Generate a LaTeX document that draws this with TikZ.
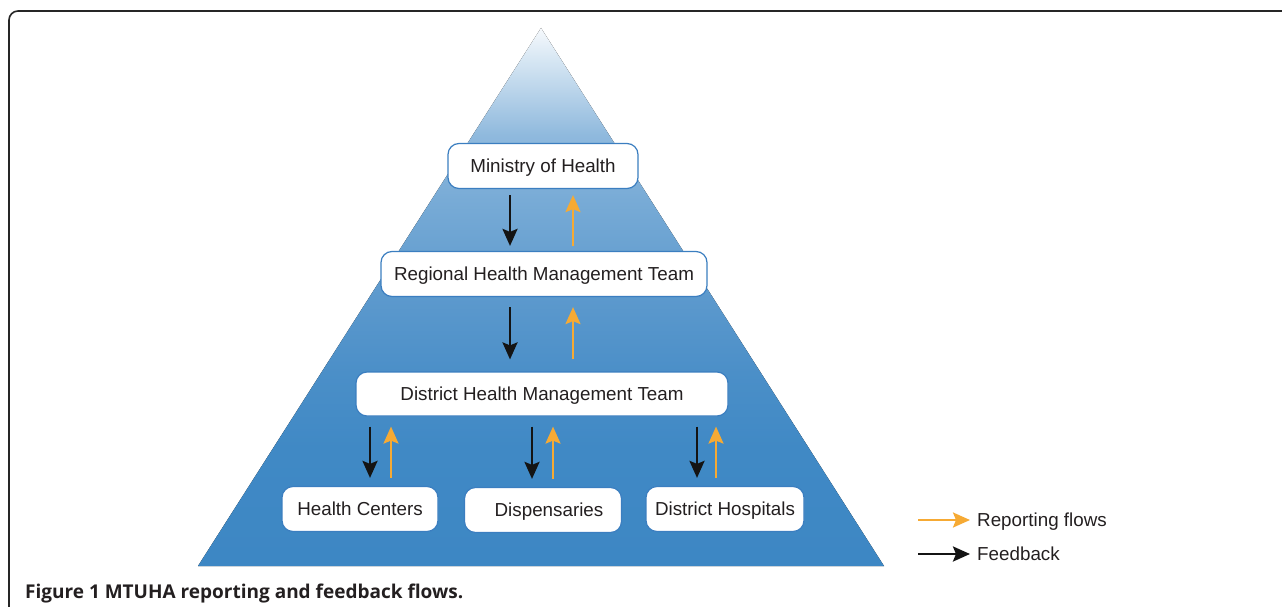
\documentclass[tikz,border=0pt]{standalone}
\usepackage{fontspec}
\setmainfont{Liberation Sans}
\newfontfamily\capfont{Open Sans}
\usepackage[table]{xcolor}
\usepackage{tikz}
\usetikzlibrary{arrows,arrows.meta,backgrounds,calc,positioning}
\definecolor{pyrT}{RGB}{246,249,252}
\definecolor{pyrT2}{RGB}{214,230,243}
\definecolor{pyrA}{RGB}{143,185,221}
\definecolor{pyrA2}{RGB}{120,171,214}
\definecolor{pyrB}{RGB}{92,153,205}
\definecolor{pyrC}{RGB}{75,143,200}
\definecolor{pyrD}{RGB}{64,137,197}
\definecolor{pyrE}{RGB}{61,135,196}
\definecolor{boxline}{RGB}{59,126,192}
\definecolor{repcol}{RGB}{246,170,52}
\definecolor{txtcol}{RGB}{35,31,32}
\pgfdeclareverticalshading{pyramidfill}{100bp}{color(0bp)=(pyrE); color(25bp)=(pyrE); color(36bp)=(pyrD); color(43bp)=(pyrC); color(50bp)=(pyrB); color(59bp)=(pyrA2); color(65bp)=(pyrA); color(72bp)=(pyrT2); color(75bp)=(pyrT); color(100bp)=(pyrT)}

\begin{document}
\begin{tikzpicture}[x=1pt,y=-1pt,
  level/.style={draw=boxline,line width=1.2pt,fill=white,rounded corners=11pt,
    minimum height=45pt,inner sep=0pt,text height=13.5pt,text depth=0pt,
    text=txtcol,font=\fontsize{18.8}{22}\selectfont},
  fb/.style={line width=2.6pt,black!92,-{Stealth[length=17pt,width=15pt,inset=3pt]}},
  rep/.style={line width=2.3pt,repcol,-{Stealth[length=17pt,width=15pt,inset=3pt]}},
  legtext/.style={anchor=west,inner sep=0pt,text height=13.5pt,text depth=0pt,
    text=txtcol,font=\fontsize{18.8}{22}\selectfont}]
\useasboundingbox (0,0) rectangle (1282,607);
\draw[line width=1.6pt,black!85,rounded corners=9pt] (9,640) -- (9,11) -- (1320,11);
\fill[shading=pyramidfill] (541,28) -- (884,566) -- (198,566) -- cycle;

\node[level,minimum width=190pt] (moh) at (543,166) {Ministry of Health};
\node[level,minimum width=326pt] (rhmt) at (544,274) {Regional Health Management Team};
\node[level,minimum width=372pt,minimum height=44pt] (dhmt) at (542,394) {District Health Management Team};
\node[level,minimum width=156pt] (hc) at (360,509) {Health Centers};
\node[level,minimum width=157pt] (disp) at (543,510) {\hspace*{12pt}Dispensaries};
\node[level,minimum width=158pt] (hosp) at (725,509) {District Hospitals};

\draw[fb,shorten <=6pt,shorten >=5pt] ([xshift=-33pt]moh.south) -- ([xshift=-33pt]moh.south |- rhmt.north);
\draw[rep,shorten <=5pt,shorten >=6pt] ([xshift=30pt]moh.south |- rhmt.north) -- ([xshift=30pt]moh.south);
\draw[fb,shorten <=10pt,shorten >=12pt] ([xshift=-34pt]rhmt.south) -- ([xshift=-34pt]rhmt.south |- dhmt.north);
\draw[rep,shorten <=12pt,shorten >=10pt] ([xshift=29pt]rhmt.south |- dhmt.north) -- ([xshift=29pt]rhmt.south);
\draw[fb,shorten <=10pt,shorten >=8pt] ([xshift=10pt]hc.north |- dhmt.south) -- ([xshift=10pt]hc.north);
\draw[rep,shorten <=8pt,shorten >=10pt] ([xshift=31pt]hc.north) -- ([xshift=31pt]hc.north |- dhmt.south);
\draw[fb,shorten <=10pt,shorten >=8pt] ([xshift=-11pt]disp.north |- dhmt.south) -- ([xshift=-11pt]disp.north);
\draw[rep,shorten <=8pt,shorten >=10pt] ([xshift=10pt]disp.north) -- ([xshift=10pt]disp.north |- dhmt.south);
\draw[fb,shorten <=10pt,shorten >=8pt] ([xshift=-28pt]hosp.north |- dhmt.south) -- ([xshift=-28pt]hosp.north);
\draw[rep,shorten <=8pt,shorten >=10pt] ([xshift=-9pt]hosp.north) -- ([xshift=-9pt]hosp.north |- dhmt.south);

\coordinate (lrep0) at (918,520);
\coordinate (lfb0) at (918,554);
\node[legtext] (lrep) at (977,520) {Reporting flows};
\node[legtext] (lfb) at (977,554) {Feedback};
\draw[rep,shorten >=7pt] (lrep0) -- (lrep.west);
\draw[fb,shorten >=7pt] (lfb0) -- (lfb.west);

\node[anchor=west,inner sep=0pt,text height=13.5pt,text depth=0pt,text=txtcol,font=\capfont\bfseries\fontsize{19}{22}\selectfont] (cap) at (25,592) {Figure 1 MTUHA reporting and feedback flows.};
\end{tikzpicture}
\end{document}
